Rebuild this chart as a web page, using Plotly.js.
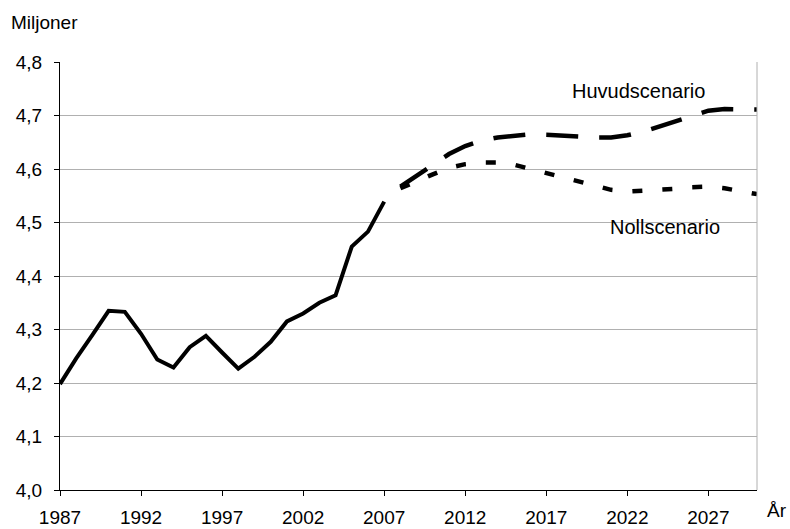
<!DOCTYPE html>
<html>
<head>
<meta charset="utf-8">
<script src="https://cdn.plot.ly/plotly-3.0.1.min.js"></script>
<style>html,body{margin:0;padding:0;background:#fff;}#chart{width:790px;height:529px;}</style>
</head>
<body>
<div id="chart"></div>
<script>
// Historical population (millions)
const histYears = [1987,1988,1989,1990,1991,1992,1993,1994,1995,1996,1997,1998,1999,2000,2001,2002,2003,2004,2005,2006,2007];
const histValues = [4.198,4.246,4.290,4.335,4.333,4.292,4.244,4.229,4.267,4.288,4.257,4.227,4.249,4.277,4.315,4.330,4.350,4.364,4.455,4.483,4.539];

// Projections
const projYears = [2008,2009,2010,2011,2012,2013,2014,2015,2016,2017,2018,2019,2020,2021,2022,2023,2024,2025,2026,2027,2028,2029,2030];
const huvudValues = [4.567,4.588,4.608,4.628,4.643,4.653,4.659,4.663,4.665,4.664,4.662,4.660,4.659,4.659,4.663,4.670,4.680,4.690,4.701,4.709,4.712,4.711,4.711];
const nollValues = [4.564,4.578,4.590,4.602,4.609,4.612,4.612,4.608,4.600,4.594,4.585,4.576,4.568,4.561,4.558,4.559,4.561,4.563,4.566,4.567,4.564,4.558,4.553];

// Axis labels
const xTickYears = [1987,1992,1997,2002,2007,2012,2017,2022,2027];
const yTickVals = [4.0,4.1,4.2,4.3,4.4,4.5,4.6,4.7,4.8];

const FONT = "'Liberation Sans', Arial, sans-serif";

const traces = [
  {x: histYears, y: histValues, type: 'scatter', mode: 'lines', name: 'Historik',
   line: {color: '#000', width: 4}},
  {x: projYears, y: huvudValues, type: 'scatter', mode: 'lines', name: 'Huvudscenario',
   line: {color: '#000', width: 4.5, dash: '32px,21px'}},
  {x: projYears, y: nollValues, type: 'scatter', mode: 'lines', name: 'Nollscenario',
   line: {color: '#000', width: 4.5, dash: '10px,20px'}}
];

const layout = {
  width: 790, height: 529,
  margin: {l: 60, r: 33, t: 62, b: 39, pad: 0},
  paper_bgcolor: '#fff', plot_bgcolor: '#fff',
  showlegend: false,
  separators: ', ',
  font: {family: FONT, size: 19, color: '#000'},
  xaxis: {
    type: 'linear', range: [1987, 2030],
    tickmode: 'array', tickvals: xTickYears, ticktext: xTickYears.map(String),
    ticks: 'outside', ticklen: 5, tickwidth: 1, tickcolor: '#000',
    showline: true, linecolor: '#000', linewidth: 1,
    showgrid: false, zeroline: false,
    tickfont: {family: FONT, size: 19, color: '#000'},
    ticklabelstandoff: 5
  },
  yaxis: {
    range: [4.0, 4.8],
    tickmode: 'array', tickvals: yTickVals, ticktext: yTickVals.map(v => v.toFixed(1).replace('.', ',')),
    ticks: 'outside', ticklen: 5, tickwidth: 1, tickcolor: '#000',
    showline: true, linecolor: '#000', linewidth: 1,
    showgrid: true, gridcolor: '#b0b0b0', gridwidth: 1,
    zeroline: false,
    tickfont: {family: FONT, size: 19, color: '#000'},
    ticklabelstandoff: 8
  },
  shapes: [
    {type: 'line', xref: 'paper', yref: 'paper', x0: 1, x1: 1, y0: 0, y1: 1,
     line: {color: '#b0b0b0', width: 1}}
  ],
  annotations: [
    {text: 'Miljoner', xref: 'paper', yref: 'paper', x: 0, y: 1, xshift: -51, yshift: 40,
     xanchor: 'left', yanchor: 'middle', showarrow: false, font: {family: FONT, size: 19, color: '#000'}},
    {text: 'År', xref: 'paper', yref: 'paper', x: 1, y: 0, xshift: 8, yshift: -20,
     xanchor: 'left', yanchor: 'middle', showarrow: false, font: {family: FONT, size: 19, color: '#000'}},
    {text: 'Huvudscenario', xref: 'x', yref: 'y', x: 2022.7, y: 4.745,
     xanchor: 'center', yanchor: 'middle', showarrow: false, font: {family: FONT, size: 20, color: '#000'}},
    {text: 'Nollscenario', xref: 'x', yref: 'y', x: 2024.3, y: 4.4915,
     xanchor: 'center', yanchor: 'middle', showarrow: false, font: {family: FONT, size: 20, color: '#000'}}
  ]
};

Plotly.newPlot('chart', traces, layout, {staticPlot: true, displayModeBar: false});
</script>
</body>
</html>
